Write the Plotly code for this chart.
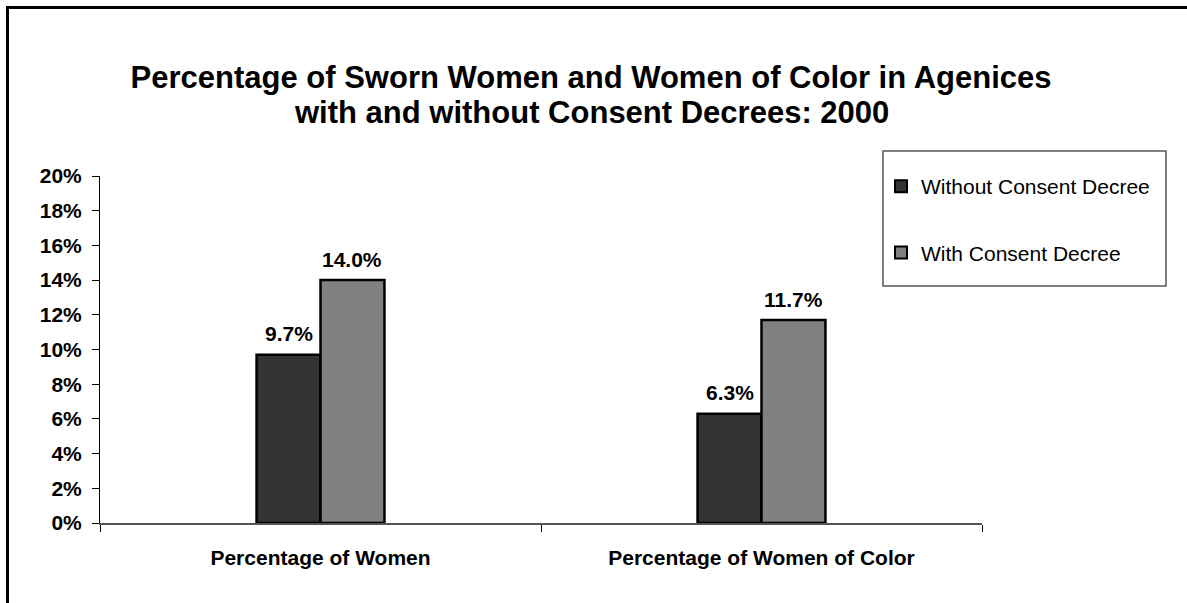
import plotly.graph_objects as go

categories = ["Percentage of Women", "Percentage of Women of Color"]
without_decree = [9.7, 6.3]
with_decree = [14.0, 11.7]
series_names = ["Without Consent Decree", "With Consent Decree"]
title_lines = ["Percentage of Sworn Women and Women of Color in Agenices",
               "with and without Consent Decrees: 2000"]

W, H = 1187, 603
L, R, T, B = 100, 205, 176, 80
pw, ph = W - L - R, H - T - B
BARGAP = 0.71

def px_x(x):
    return (x - L) / pw

def px_y(y):
    return (H - B - y) / ph

FONT = "Liberation Sans, Arial, sans-serif"
FS = 21

fig = go.Figure()
fig.add_trace(go.Bar(
    x=categories, y=without_decree, name=series_names[0], legendgroup="a",
    marker=dict(color="#333333", line=dict(color="#000000", width=2.5)),
))
fig.add_trace(go.Bar(
    x=categories, y=with_decree, name=series_names[1], legendgroup="b",
    marker=dict(color="#808080", line=dict(color="#000000", width=2.5)),
))

# data labels above each bar, positioned through the data axes
bar_w = (pw / len(categories)) * (1 - BARGAP) / 2
annotations = []
for series, sign in ((without_decree, -1), (with_decree, 1)):
    for cat, val in zip(categories, series):
        annotations.append(dict(
            x=cat, y=val, xref="x", yref="y",
            text=f"<b>{val:.1f}%</b>", showarrow=False,
            xshift=sign * bar_w / 2, yshift=21,
            xanchor="center", yanchor="middle",
            font=dict(family=FONT, size=FS, color="#000000"),
        ))
annotations.append(dict(
    text="<b>" + title_lines[1] + "</b>",
    x=px_x(591), y=px_y(112), xref="paper", yref="paper",
    xanchor="center", yanchor="middle", showarrow=False,
    font=dict(family=FONT, size=31, color="#000000"),
))

fig.update_layout(
    width=W, height=H,
    margin=dict(l=L, r=R, t=T, b=B, autoexpand=False),
    paper_bgcolor="white", plot_bgcolor="white",
    barmode="group", bargap=BARGAP, bargroupgap=0,
    font=dict(family=FONT, color="#000000"),
    title=dict(
        text="<b>" + title_lines[0] + "</b>",
        x=591 / W, xanchor="center", xref="container",
        y=1 - 77 / H, yanchor="middle", yref="container",
        font=dict(family=FONT, size=31, color="#000000"),
    ),
    annotations=annotations,
    showlegend=True,
    legend=dict(
        x=px_x(881), y=px_y(166), xanchor="left", yanchor="top",
        xref="paper", yref="paper",
        bgcolor="rgba(0,0,0,0)", borderwidth=0,
        font=dict(family=FONT, size=FS, color="#000000"),
        tracegroupgap=36, traceorder="grouped",
        itemsizing="constant",
    ),
    shapes=[
        dict(type="rect", xref="paper", yref="paper",
             x0=px_x(883), x1=px_x(1166), y0=px_y(286), y1=px_y(151),
             line=dict(color="#555555", width=1.5), fillcolor="rgba(0,0,0,0)"),
        dict(type="rect", xref="paper", yref="paper",
             x0=px_x(7.5), x1=px_x(1300), y0=px_y(700), y1=px_y(7.5),
             line=dict(color="#000000", width=3), fillcolor="rgba(0,0,0,0)"),
    ],
)

fig.update_xaxes(
    showline=True, linecolor="#555555", linewidth=1.5,
    ticks="outside", tickson="boundaries", ticklen=7, tickcolor="#000000",
    tickfont=dict(family=FONT, size=FS, color="#000000"),
    ticklabelstandoff=15,
    showgrid=False, zeroline=False,
    tickprefix="<b>", ticksuffix="</b>",
)
fig.update_yaxes(
    range=[0, 20], dtick=2, tick0=0,
    showline=True, linecolor="#000000", linewidth=1,
    ticks="outside", ticklen=7, tickcolor="#000000",
    ticksuffix="%</b>", tickprefix="<b>",
    tickfont=dict(family=FONT, size=FS, color="#000000"),
    ticklabelstandoff=6,
    showgrid=False, zeroline=False,
)

fig.write_html("out.html")
